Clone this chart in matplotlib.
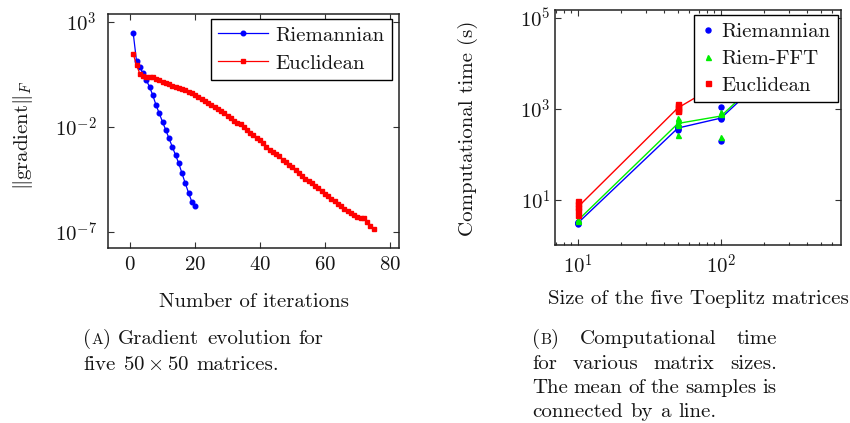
import numpy as np
import matplotlib
matplotlib.use('Agg')
import matplotlib.pyplot as plt
from matplotlib.lines import Line2D
from matplotlib.ticker import FixedLocator, NullLocator, NullFormatter, FuncFormatter, LogLocator

plt.rcParams['font.family'] = 'cmr10'
plt.rcParams['mathtext.fontset'] = 'cm'
plt.rcParams['axes.formatter.use_mathtext'] = True

FS = 15
TXT = '#151515'
W, H = 850, 423

# gradient norm per iteration, stored as log10 values
riem_iter = np.arange(1, 21)
riem_log = [2.46, 1.15, 0.87, 0.56, 0.24, -0.08, -0.48, -0.95, -1.35, -1.75,
            -2.14, -2.54, -2.94, -3.33, -3.73, -4.21, -4.68, -5.13, -5.56, -5.75]
eucl_iter = np.arange(1, 76)
eucl_log = [1.48, 0.95, 0.55, 0.43, 0.40, 0.40, 0.37, 0.31, 0.24, 0.14,
            0.08, 0.04, -0.03, -0.08, -0.13, -0.21, -0.24, -0.31, -0.38, -0.47,
            -0.56, -0.65, -0.74, -0.85, -0.94, -1.03, -1.12, -1.22, -1.35, -1.46,
            -1.58, -1.70, -1.80, -1.88, -2.00, -2.14, -2.28, -2.40, -2.52, -2.62,
            -2.76, -2.94, -3.08, -3.19, -3.30, -3.40, -3.55, -3.68, -3.80, -3.93,
            -4.07, -4.20, -4.32, -4.46, -4.58, -4.68, -4.80, -4.90, -5.04, -5.18,
            -5.30, -5.43, -5.55, -5.67, -5.78, -5.90, -6.00, -6.10, -6.22, -6.30,
            -6.33, -6.36, -6.55, -6.72, -6.85]

# computational time (s), five samples per matrix size
sizes = [10, 50, 100, 500]
riem_time = [[3.0, 3.1, 3.2, 3.1, 3.3],
             [350, 400, 420, 380, 360],
             [200, 1100, 620, 600, 640],
             [60000, 65000, 70000, 75000, 80000]]
fft_time = [[3.5, 3.6, 3.7, 3.6, 3.6],
            [630, 560, 500, 450, 270],
            [245, 800, 820, 850, 790],
            [70000, 75000, 80000, 85000, 90000]]
eucl_sizes = [10, 50, 100]
eucl_time = [[9.5, 8.0, 7.0, 6.0, 4.8],
             [1260, 1150, 1050, 950, 890],
             [3300, 3600, 3800, 4000, 4300]]


def box(x0, y0, x1, y1):
    return [x0 / W, 1 - y1 / H, (x1 - x0) / W, (y1 - y0) / H]


def px(x, y):
    return x / W, 1 - y / H


def pow10(v, pos):
    return r'$10^{%d}$' % round(np.log10(v))


def style(ax, ypad):
    ax.tick_params(which='both', direction='in', top=True, right=True,
                   labelsize=FS, labelcolor=TXT, width=0.8, color='#333333')
    ax.tick_params(which='major', length=4.5)
    ax.tick_params(which='minor', length=2.5)
    ax.tick_params(axis='x', pad=6)
    ax.tick_params(axis='y', pad=ypad)
    for sp in ax.spines.values():
        sp.set_linewidth(1.1)
        sp.set_color('#222222')


fig = plt.figure(figsize=(8.5, 4.23), dpi=100)

# left: gradient evolution
ax1 = fig.add_axes(box(108, 14, 399, 248))
ax1.semilogy(riem_iter, 10.0 ** np.array(riem_log), color='blue', marker='o',
             ms=3.3, lw=0.9, label='Riemannian')
ax1.semilogy(eucl_iter, 10.0 ** np.array(eucl_log), color='red', marker='s',
             ms=3.3, lw=0.9, label='Euclidean')
ax1.set_xlim(-6.77, 82.77)
ax1.set_ylim(10 ** -7.77, 10 ** 3.39)
ax1.set_xticks([0, 20, 40, 60, 80])
ax1.yaxis.set_major_locator(FixedLocator([1e-7, 1e-2, 1e3]))
ax1.yaxis.set_minor_locator(NullLocator())
ax1.yaxis.set_major_formatter(FuncFormatter(pow10))
style(ax1, 8)
leg1 = ax1.legend(loc='upper right', bbox_to_anchor=(0.976, 0.979), fontsize=FS,
                  fancybox=False, edgecolor='black', framealpha=1, borderpad=0.35,
                  handlelength=2.4, handletextpad=0.35, labelspacing=0.45,
                  borderaxespad=0)
leg1.get_frame().set_linewidth(1.0)
for t in leg1.get_texts():
    t.set_color(TXT)

# right: computational time
ax2 = fig.add_axes(box(555, 10, 841, 245))
ax2.set_xscale('log')
ax2.set_yscale('log')
groups = [(sizes, riem_time, 'blue', 'o', 'Riemannian'),
          (sizes, fft_time, '#00ee00', '^', 'Riem-FFT'),
          (eucl_sizes, eucl_time, 'red', 's', 'Euclidean')]
handles = []
for xs, samples, col, mk, name in groups:
    means = [np.mean(s) for s in samples]
    ax2.plot(xs, means, color=col, lw=1.0)
    for x, s in zip(xs, samples):
        ax2.plot([x] * len(s), s, linestyle='none', marker=mk, color=col, ms=3.6)
    handles.append(Line2D([], [], linestyle='none', marker=mk, color=col, ms=3.6, label=name))
ax2.set_xlim(10 ** 0.839, 10 ** 2.839)
ax2.set_ylim(10 ** 0.011, 10 ** 5.176)
ax2.xaxis.set_minor_locator(LogLocator(subs=np.arange(2, 10)))
ax2.xaxis.set_minor_formatter(NullFormatter())
ax2.xaxis.set_major_formatter(FuncFormatter(pow10))
ax2.yaxis.set_major_locator(FixedLocator([1e1, 1e3, 1e5]))
ax2.yaxis.set_minor_locator(NullLocator())
ax2.yaxis.set_major_formatter(FuncFormatter(pow10))
style(ax2, 3)
leg2 = ax2.legend(handles=handles, loc='upper right', bbox_to_anchor=(0.9895, 0.9787),
                  fontsize=FS, fancybox=False, edgecolor='black', framealpha=1,
                  borderpad=0.35, handlelength=0.6, handletextpad=0.35,
                  labelspacing=0.4, borderaxespad=0)
leg2.get_frame().set_linewidth(1.0)
for t in leg2.get_texts():
    t.set_color(TXT)

# axis labels
fig.text(*px(23, 135), r'$\|\mathrm{gradient}\|_F$', rotation=90, ha='center',
         va='center', fontsize=FS, color=TXT)
fig.text(*px(468, 128), 'Computational time (s)', rotation=90, ha='center',
         va='center', fontsize=FS, color=TXT)
fig.text(*px(254, 307), 'Number of iterations', ha='center', va='baseline',
         fontsize=FS, color=TXT)
fig.text(*px(698, 304), 'Size of the five Toeplitz matrices', ha='center',
         va='baseline', fontsize=FS, color=TXT)


def place_line(words, x0, y, x1=None):
    # words are lists of (text, scale) pieces; spread between x0 and x1 if given
    r = fig.canvas.get_renderer()
    arts, widths = [], []
    for w in words:
        pieces, total = [], 0.0
        for s, k in w:
            t = fig.text(0, 0, s, fontsize=FS * k, ha='left', va='baseline', color=TXT)
            bw = t.get_window_extent(r).width
            pieces.append((t, bw))
            total += bw
        arts.append(pieces)
        widths.append(total)
    if x1 is None:
        gap = 0.36 * FS * 100 / 72
    else:
        gap = (x1 - x0 - sum(widths)) / (len(words) - 1)
    x = x0
    for pieces, ww in zip(arts, widths):
        xx = x
        for t, bw in pieces:
            t.set_position(px(xx, y))
            xx += bw
        x += ww + gap


def plain(text):
    return [[(w, 1.0)] for w in text.split()]


tag_a = [('(', 1.0), ('A', 0.75), (')', 1.0)]
tag_b = [('(', 1.0), ('B', 0.75), (')', 1.0)]

place_line([tag_a] + plain('Gradient evolution for'), 83, 344)
place_line(plain('five') + [[(r'$50\times50$', 1.0)]] + plain('matrices.'), 83, 370)
place_line([tag_b] + plain('Computational time'), 532, 344, 777)
place_line(plain('for various matrix sizes.'), 532, 369, 777)
place_line(plain('The mean of the samples is'), 532, 393, 777)
place_line(plain('connected by a line.'), 532, 417)

fig.savefig('out.png', dpi=100)
